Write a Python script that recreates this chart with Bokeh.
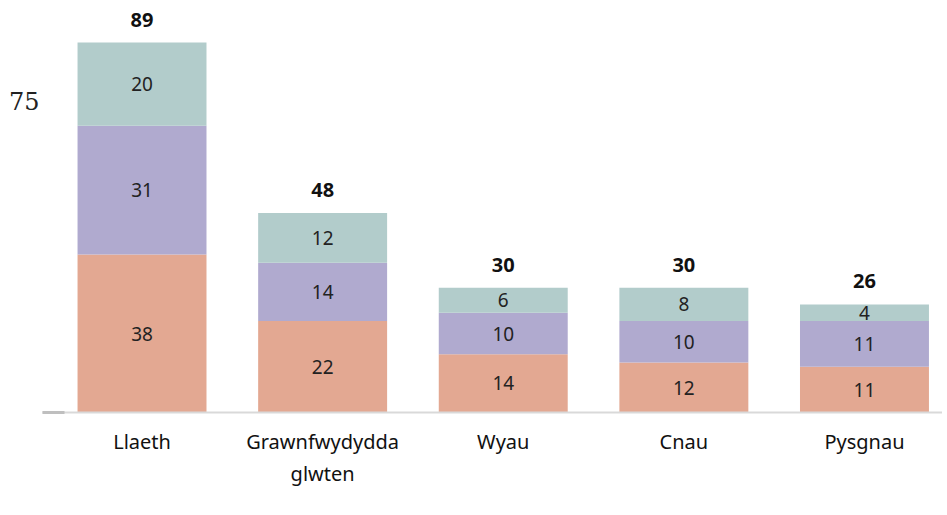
from bokeh.plotting import figure
from bokeh.models import ColumnDataSource, FixedTicker, Legend, LegendItem
from bokeh.core.properties import value
from bokeh.embed import file_html
from bokeh.resources import INLINE

categories = ["Llaeth", "Grawnfwydydda\nglwten", "Wyau", "Cnau", "Pysgnau"]
years = ["2019", "2020", "2021"]
v2019 = [38, 22, 14, 12, 11]
v2020 = [31, 14, 10, 10, 11]
v2021 = [20, 12, 6, 8, 4]
colors = ["#E3A892", "#B0AACF", "#B2CCCB"]

x = list(range(len(categories)))
totals = [a + b + c for a, b, c in zip(v2019, v2020, v2021)]
src = ColumnDataSource(dict(x=x, y2019=v2019, y2020=v2020, y2021=v2021, total=totals,
                            ttxt=[str(t) for t in totals]))

p = figure(frame_width=900, frame_height=404, output_backend="svg", toolbar_location=None,
           x_range=(-0.551, 4.432), y_range=(0, 97.2),
           min_border_left=42, min_border_right=0, min_border_top=8, min_border_bottom=0)
p.outline_line_color = None
p.xgrid.grid_line_color = None
p.ygrid.grid_line_color = None
p.background_fill_color = "white"

renderers = p.vbar_stack(["y2019", "y2020", "y2021"], x="x", width=0.714, source=src,
                         color=colors, line_color=None)

# segment labels
cum = [0] * len(x)
for vals in (v2019, v2020, v2021):
    mids = [c + v / 2 for c, v in zip(cum, vals)]
    cum = [c + v for c, v in zip(cum, vals)]
    s = ColumnDataSource(dict(x=x, y=mids, t=[str(v) for v in vals]))
    p.text(x="x", y="y", text="t", source=s, text_align="center", text_baseline="middle",
           text_font=value("Noto Sans"), text_font_size="19px", text_color="#222222")

p.text(x="x", y="total", text="ttxt", source=src, text_align="center", text_baseline="bottom",
       y_offset=-16, text_font=value("Noto Sans"), text_font_size="20px",
       text_font_style="bold", text_color="#111111")

# x axis
xa = p.xaxis[0]
xa.ticker = FixedTicker(ticks=x)
xa.major_label_overrides = {i: c for i, c in zip(x, categories)}
xa.major_tick_line_color = None
xa.minor_tick_line_color = None
xa.axis_line_color = "#d9d9d9"
xa.axis_line_width = 2
xa.major_label_text_font = "Noto Sans"
xa.major_label_text_font_size = "20px"
xa.major_label_text_color = "#111111"
xa.major_label_standoff = 9
xa.axis_label = " "
xa.axis_label_text_font_size = "20px"
xa.axis_label_standoff = 12

# y axis
ya = p.yaxis[0]
ya.ticker = FixedTicker(ticks=[75], minor_ticks=[0])
ya.axis_line_color = None
ya.major_tick_line_color = None
ya.major_tick_out = 0
ya.major_tick_in = 0
ya.minor_tick_in = 22
ya.minor_tick_out = 0
ya.minor_tick_line_color = "#bfbfbf"
ya.minor_tick_line_width = 3
ya.major_label_text_font = "DejaVu Serif"
ya.major_label_text_font_size = "24px"
ya.major_label_text_color = "#222222"
ya.major_label_standoff = 3

legend = Legend(items=[LegendItem(label=y, renderers=[r]) for y, r in zip(years, renderers)],
                orientation="horizontal", location=(100, -82), spacing=250,
                glyph_width=15, glyph_height=15, label_standoff=8, label_height=16,
                label_text_font="Noto Sans", label_text_font_size="20px",
                label_text_color="#111111", border_line_color=None,
                background_fill_alpha=0, padding=0, margin=0)
p.add_layout(legend, "center")

open("out.html", "w").write(file_html(p, INLINE))
